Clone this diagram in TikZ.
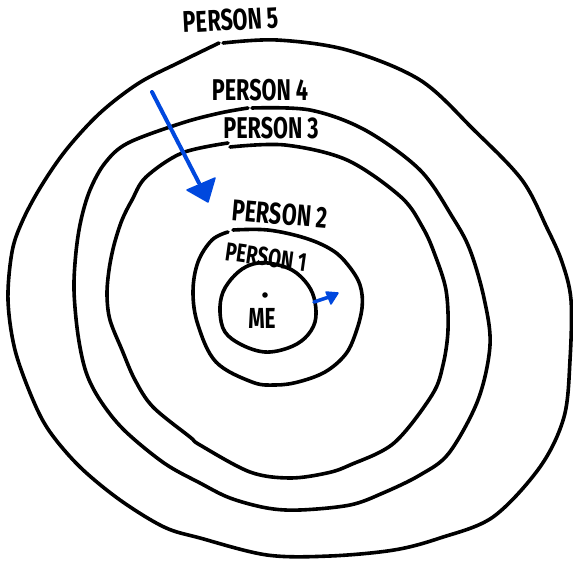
\documentclass[tikz,border=0pt]{standalone}
\usepackage{fontspec}
\setmainfont{Fira Sans}
\definecolor{penblue}{RGB}{0,72,222}
\newcommand{\handtxt}[2][30]{\scalebox{0.72}[1]{\fontsize{#1}{#1}\selectfont\bfseries #2}}
\tikzset{
  ring/.style={line width=3.6pt, line cap=round, line join=round},
  lbl/.style={inner sep=0pt, anchor=center},
  bluepen/.style={penblue, line width=4pt, line cap=round},
  bluehead/.style={fill=penblue, draw=penblue, line width=1.5pt, line join=round}
}
\begin{document}
\begin{tikzpicture}[x=1pt, y=-1pt]
\useasboundingbox (0,0) rectangle (573,560);
% outer ring (person 5)
\draw[ring] plot[smooth, tension=0.55] coordinates {(223,43) (277,40) (347,50) (420,80) (474,130) (522,180) (547,228) (562,262) (571,300) (570,360) (564,417) (540,467) (493,517) (440,538) (394,550) (330,556) (267,555) (200,538) (164,527) (120,500) (80,467) (50,432) (33,400) (15,350) (8,300) (12,252) (22,222) (40,188) (66,150) (100,113) (139,83) (180,62) (219,43)};
% ring 4
\draw[ring] plot[smooth, tension=0.55] coordinates {(252,108) (310,110) (365,130) (420,170) (453,218) (470,250) (484,298) (490,345) (478,400) (449,453) (420,475) (383,493) (350,505) (300,510) (267,508) (230,498) (200,483) (164,463) (124,430) (100,400) (86,372) (78,335) (74,290) (76,252) (81,220) (90,190) (105,163) (128,143) (182,123) (220,113) (248,108)};
% ring 3
\draw[ring] plot[smooth, tension=0.55] coordinates {(230,147) (285,145) (347,160) (401,197) (423,228) (435,255) (446,290) (448,330) (443,365) (432,395) (394,443) (350,465) (327,473) (290,478) (250,472) (200,445) (190,437) (153,407) (135,380) (122,350) (110,320) (107,295) (109,270) (114,245) (122,220) (132,200) (146,177) (182,153) (228,143)};
% ring 2
\draw[ring] plot[smooth, tension=0.6] coordinates {(233,230) (268,230) (305,238) (332,250) (348,265) (360,285) (362,308) (355,335) (345,355) (325,372) (298,382) (275,385) (252,382) (216,362) (198,325) (193,292) (198,262) (212,240) (228,232)};
% ring 1
\draw[ring] plot[smooth cycle, tension=0.6] coordinates {(250,265) (268,263) (292,270) (308,285) (315,302) (315,322) (305,338) (288,348) (265,352) (242,345) (225,332) (220,312) (223,292) (235,275)};
% centre dot
\fill (265,295) circle (2.8);
% labels
\node[lbl, rotate=3] (p5) at (231,20) {\handtxt{PERSON 5}};
\node[lbl] (p4) at (260,90) {\handtxt{PERSON 4}};
\node[lbl] (p3) at (271,128) {\handtxt{PERSON 3}};
\node[lbl, rotate=-5] (p2) at (280,214) {\handtxt{PERSON 2}};
\node[lbl, rotate=-8] (p1) at (266,257) {\handtxt[26]{PERSON 1}};
\node[lbl] (me) at (262,318) {\handtxt[29]{ME}};
% big blue arrow
\coordinate (bigs) at (152,92);
\coordinate (bige) at (199,183);
\draw[bluepen] (bigs) -- (bige);
\filldraw[bluehead] (187,190) -- (215,178) -- (208,202) -- cycle;
% small blue arrow
\coordinate (smalls) at (314,302);
\coordinate (smalle) at (329,297);
\draw[bluepen, line width=3.6pt] (smalls) -- (smalle);
\filldraw[bluehead] (326,292) -- (338,293) -- (331,304) -- cycle;
\end{tikzpicture}
\end{document}
